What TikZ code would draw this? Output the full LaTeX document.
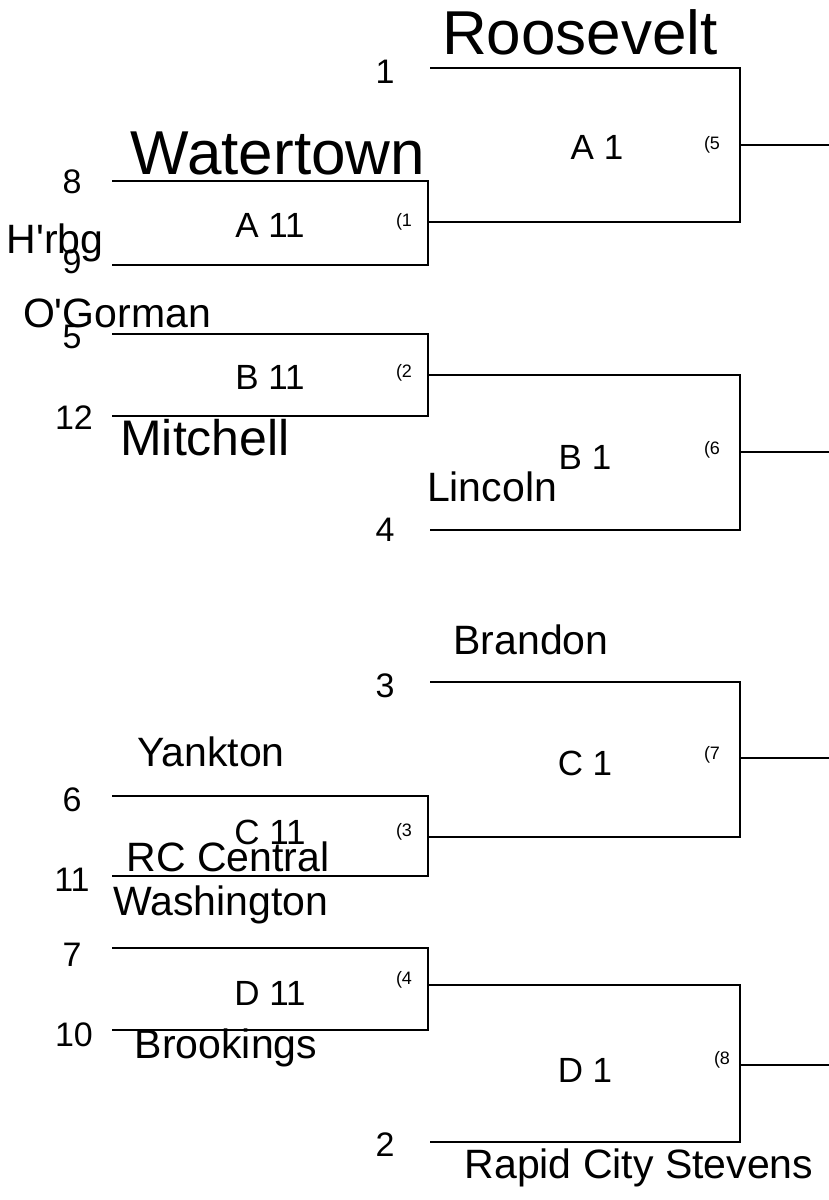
\documentclass[tikz,border=0pt]{standalone}
\usepackage{fontspec}
\setmainfont{Liberation Sans}[Ligatures=TeXOff]
\usetikzlibrary{positioning}
\tikzset{
	seed/.style={font=\fontsize{34}{34}\selectfont, inner sep=0},
	game/.style={font=\fontsize{35}{35}\selectfont, inner sep=0},
	slot/.style={font=\fontsize{18}{18}\rmfamily\selectfont, inner sep=0},
	team/.style={font=\fontsize{41}{41}\selectfont, inner sep=0},
	bigteam/.style={font=\fontsize{62}{62}\selectfont, inner sep=0},
	line/.style={line width=2pt}
}
\begin{document}
\begin{tikzpicture}[x=1pt,y=-1pt]
	\useasboundingbox (0,0) rectangle (829,1200);
	% outer brackets
	\draw[line] (430,68) -- (740,68) -- (740,222) -- (428,222);
	\draw[line] (740,145) -- (829,145);
	\draw[line] (428,375) -- (740,375) -- (740,530) -- (430,530);
	\draw[line] (740,452) -- (829,452);
	\draw[line] (430,682) -- (740,682) -- (740,837) -- (428,837);
	\draw[line] (740,758) -- (829,758);
	\draw[line] (428,985) -- (740,985) -- (740,1142) -- (430,1142);
	\draw[line] (740,1065) -- (829,1065);
	% inner brackets
	\draw[line] (112,181) -- (428,181) -- (428,265) -- (112,265);
	\draw[line] (112,334) -- (428,334) -- (428,416) -- (112,416);
	\draw[line] (112,796) -- (428,796) -- (428,876) -- (112,876);
	\draw[line] (112,948) -- (428,948) -- (428,1030) -- (112,1030);
	% seeds
	\node[seed] (s1) at (385,72) {1};
	\node[seed] (s8) at (72,182) {8};
	\node[seed] (s9) at (72,262) {9};
	\node[seed] (s5) at (72,337) {5};
	\node[seed] (s12) at (74,418) {12};
	\node[seed] (s4) at (385,530) {4};
	\node[seed] (s3) at (385,686) {3};
	\node[seed] (s6) at (72,800) {6};
	\node[seed] (s11) at (72,880) {11};
	\node[seed] (s7) at (72,955) {7};
	\node[seed] (s10) at (74,1035) {10};
	\node[seed] (s2) at (385,1145) {2};
	% games
	\node[game] (gA1) at (597,147) {A 1};
	\node[game] (gA11) at (270,225) {A 11};
	\node[game] (gB11) at (270,377) {B 11};
	\node[game] (gB1) at (585,457) {B 1};
	\node[game] (gC1) at (585,763) {C 1};
	\node[game] (gC11) at (270,832) {C 11};
	\node[game] (gD11) at (270,993) {D 11};
	\node[game] (gD1) at (585,1070) {D 1};
	% slots
	\node[slot] (n1) at (404,222) {(1};
	\node[slot] (n2) at (404,373) {(2};
	\node[slot] (n3) at (404,832) {(3};
	\node[slot] (n4) at (404,980) {(4};
	\node[slot] (n5) at (712,145) {(5};
	\node[slot] (n6) at (712,450) {(6};
	\node[slot] (n7) at (712,755) {(7};
	\node[slot] (n8) at (722,1060) {(8};
	% teams
	\node[bigteam] (roosevelt) at (580,32) {Roosevelt};
	\node[bigteam] (watertown) at (278,153) {Watertown};
	\node[bigteam, font=\fontsize{50}{50}\selectfont] (mitchell) at (205,438) {Mitchell};
	\node[team] (hrbg) at (55,243) {H'rbg};
	\node[team] (ogorman) at (117,313) {O'Gorman};
	\node[team] (lincoln) at (492,487) {Lincoln};
	\node[team] (brandon) at (531,640) {Brandon};
	\node[team] (yankton) at (211,752) {Yankton};
	\node[team] (rccentral) at (228,857) {RC Central};
	\node[team] (washington) at (221,905) {Washington};
	\node[team] (brookings) at (226,1048) {Brookings};
	\node[team] (stevens) at (639,1168) {Rapid City Stevens};
\end{tikzpicture}
\end{document}
